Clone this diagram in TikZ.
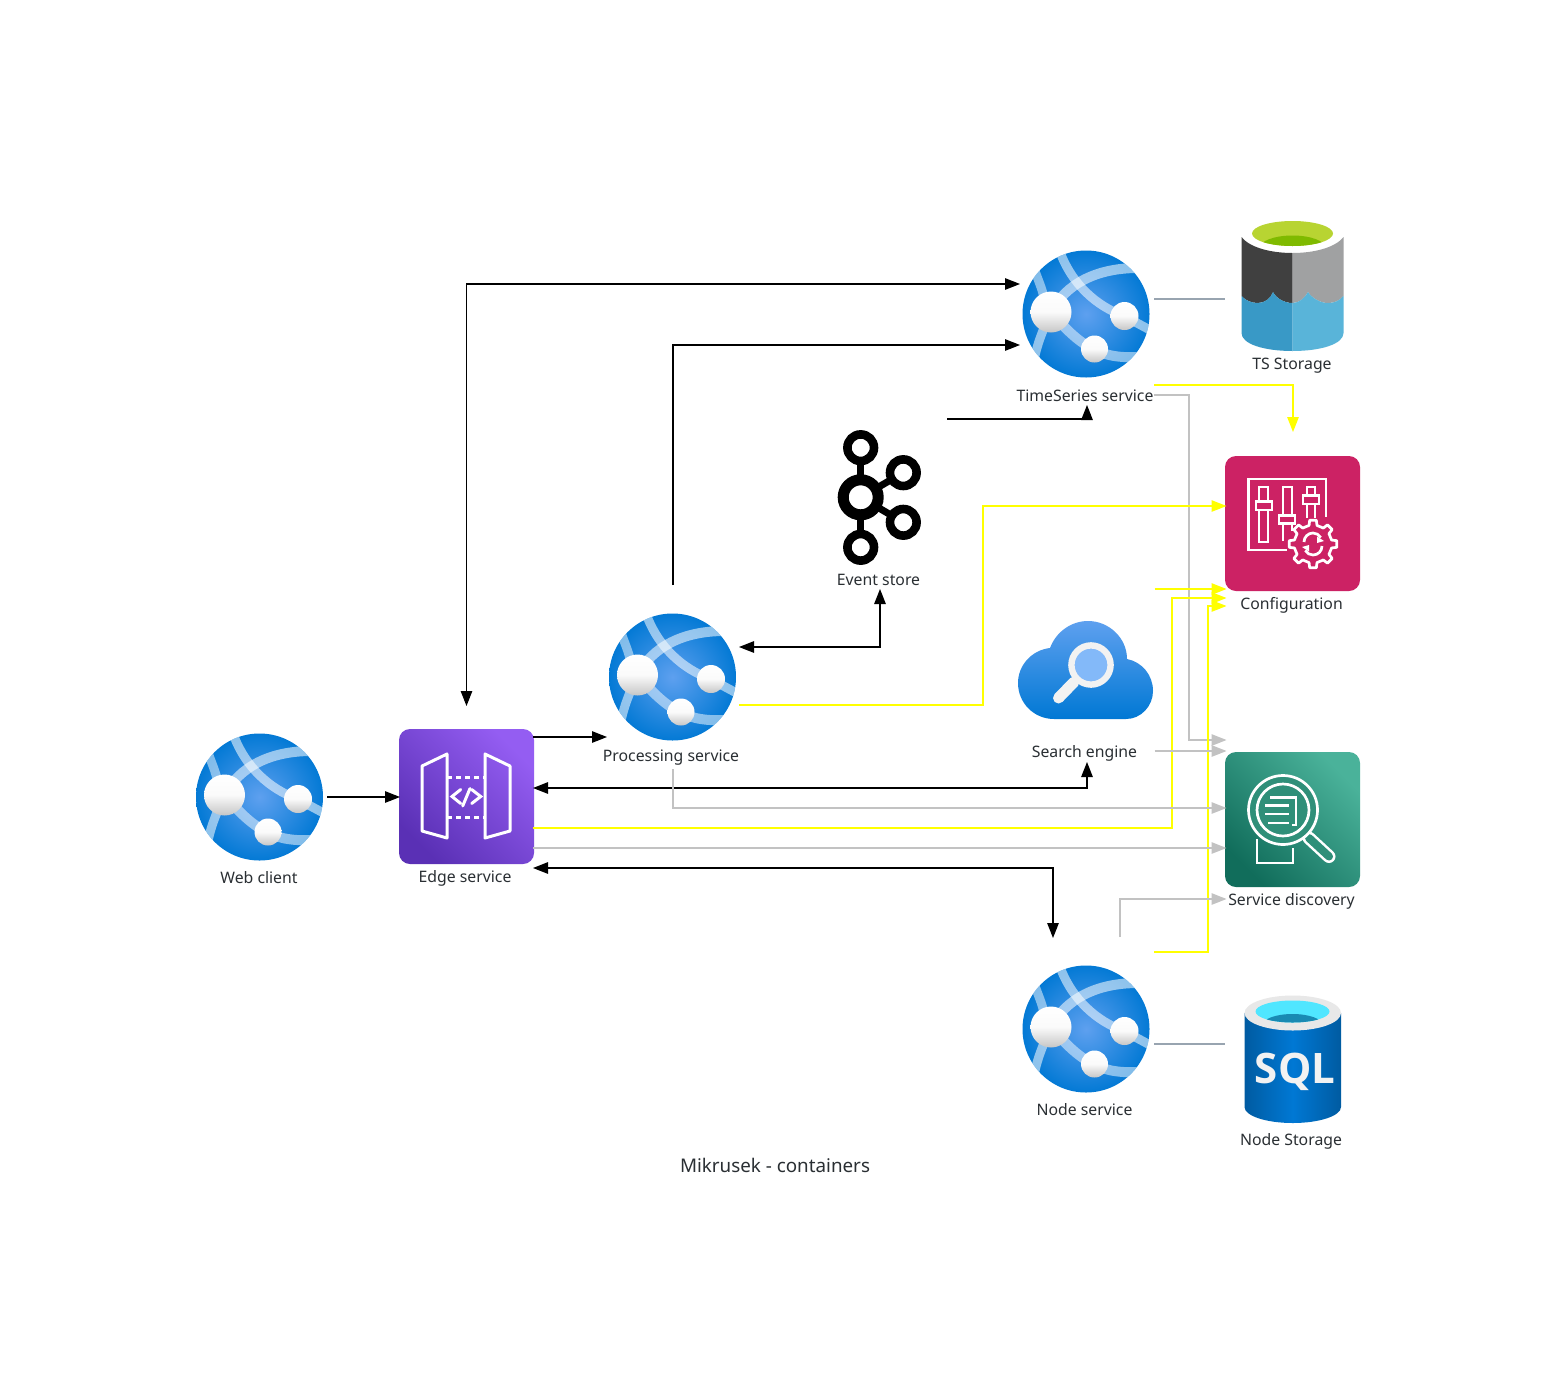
\documentclass[tikz,border=0pt]{standalone}
\usepackage{fontspec}
\setmainfont{Noto Sans}
\newfontfamily\sqlfont{Open Sans}
\usetikzlibrary{arrows.meta,calc}
\definecolor{ink}{HTML}{2A2F33}
\definecolor{cgray}{HTML}{C2C2C2}
\definecolor{cyel}{HTML}{FFFF00}
\definecolor{cslate}{HTML}{98A4B0}
\definecolor{webA}{HTML}{5EA0EF}
\definecolor{webB}{HTML}{0078D4}
\definecolor{nodeG}{HTML}{C6C6C6}
\definecolor{cfgpink}{HTML}{CC2264}
\definecolor{lakeDark}{HTML}{404040}
\definecolor{lakeGray}{HTML}{A0A1A2}
\definecolor{lakeBlueA}{HTML}{3999C6}
\definecolor{lakeBlueB}{HTML}{59B4D9}
\definecolor{lakeLime}{HTML}{B8D432}
\definecolor{lakeGreen}{HTML}{7FBA00}
\definecolor{glassRim}{HTML}{F2F2F2}
\definecolor{glassIn}{HTML}{83B9F9}
\definecolor{edgeA}{HTML}{5A30B5}
\definecolor{edgeB}{HTML}{945DF2}
\definecolor{discA}{HTML}{116D5B}
\definecolor{discB}{HTML}{4AB29A}
\definecolor{discM}{HTML}{2F8F79}
\definecolor{sqlA}{HTML}{005BA1}
\definecolor{sqlRim}{HTML}{E8E8E8}
\definecolor{sqlCy}{HTML}{50E6FF}
\definecolor{sqlDk}{HTML}{198AB3}
\tikzset{
  box/.style={inner sep=0pt,outer sep=0pt,minimum width=#1,minimum height=#1},
  lab/.style={font=\fontsize{15.8}{18}\selectfont,text=ink,inner sep=0pt,anchor=center},
  conn/.style={line width=1.2pt},
  toblack/.style={conn,black,-{Triangle[length=15pt,width=11.5pt]}},
  bothblack/.style={conn,black,{Triangle[length=15pt,width=11.5pt]}-{Triangle[length=15pt,width=11.5pt]}},
  toyel/.style={conn,cyel,-{Triangle[length=15pt,width=11.5pt]}},
  togray/.style={conn,cgray,-{Triangle[length=15pt,width=11.5pt]}},
  slate/.style={conn,cslate},
  whiteline/.style={draw=white,line width=3pt},
  rbox/.style={rounded corners=11pt},
  webapp/.pic={
    \begin{scope}
      \clip (0,0) circle[radius=63.5];
      \shade[inner color=webA,outer color=webB] (0,0) circle[radius=66];
      \draw[white,opacity=.55,line width=9pt] (-26,-62) .. controls (-14,-30) and (10,-8) .. (38,2) -- (64,16);
      \draw[white,opacity=.55,line width=10pt] (-35,-2) .. controls (-20,-30) and (10,-46) .. (52,-46);
      \draw[white,opacity=.5,line width=9pt] (-52,-46) .. controls (-48,-34) and (-44,-26) .. (-42,-16);
      \draw[white,opacity=.55,line width=9pt] (-42,14) .. controls (-46,24) and (-49,32) .. (-52,46);
      \draw[white,opacity=.5,line width=10pt] (-35,-2) .. controls (-20,16) and (-5,30) .. (8,35) .. controls (20,42) and (34,44) .. (56,43);
    \end{scope}
    \shade[top color=white,bottom color=nodeG,middle color=white!92!nodeG] (-35,-2) circle[radius=20.5];
    \shade[top color=white,bottom color=nodeG,middle color=white!92!nodeG] (38.5,2) circle[radius=14];
    \shade[top color=white,bottom color=nodeG,middle color=white!92!nodeG] (8.5,35) circle[radius=13.5];
  },
}
\begin{document}
\begin{tikzpicture}[x=1pt,y=-1pt]
\useasboundingbox (0,0) rectangle (1552,1376);
\fill[white] (0,0) rectangle (1552,1376);

% --- anchor boxes
\node[box=136] (web) at (259,797) {};
\node[box=133] (edge) at (466.5,797) {};
\node[box=132] (proc) at (673,677) {};
\node[box=134] (ts) at (1087,314) {};
\node[box=134] (kafka) at (880,498) {};
\node[box=135] (srch) at (1087,670) {};
\node[box=133] (cfg) at (1293,523.5) {};
\node[box=133] (disc) at (1293,819.5) {};
\node[box=134] (nodesvc) at (1087,1029) {};
\node[box=134] (tsdb) at (1292,285) {};
\node[box=134] (sqldb) at (1292,1060) {};

% --- labels
\node[lab] (lweb) at (259,878) {Web client};
\node[lab] (ledge) at (465,878) {Edge service};
\node[lab] (lproc) at (671,758) {Processing service};
\node[lab] (lkafka) at (878.5,580) {Event store};
\node[lab] (lts) at (1085,396) {TimeSeries service};
\node[lab] (ltsdb) at (1292,365.5) {TS Storage};
\node[lab] (lcfg) at (1291.5,605.5) {Configuration};
\node[lab] (lsrch) at (1084.5,753.5) {Search engine};
\node[lab] (ldisc) at (1291.5,901.5) {Service discovery};
\node[lab] (lnode) at (1084.5,1110) {Node service};
\node[lab] (lsql) at (1291,1141.5) {Node Storage};
\node[lab,font=\fontsize{18.8}{22}\selectfont] (title) at (775,1165.5) {Mikrusek - containers};

% --- web apps
\pic at (259.5,797) {webapp};
\pic at (672.5,677) {webapp};
\pic at (1086,314) {webapp};
\pic at (1086,1029) {webapp};

% --- TS Storage
\fill[white] (1241,237) arc[x radius=51.5,y radius=16,start angle=180,end angle=0] -- (1343.5,260) -- (1241,260) -- cycle;
\fill[white] (1292.25,237) ellipse[x radius=51.25,y radius=16];
\fill[lakeDark] (1241.5,237) -- (1241.5,296) .. controls (1246,301) and (1252,303) .. (1258,303) .. controls (1265,303) and (1271,298) .. (1273,292) .. controls (1276,298) and (1284,303) .. (1292.5,303) -- (1292.5,253) .. controls (1272,253) and (1250,248) .. (1241.5,237) -- cycle;
\fill[lakeGray] (1292.5,253) -- (1292.5,303) .. controls (1299,303) and (1305,298) .. (1308,292) .. controls (1312,298) and (1320,303) .. (1328,303) .. controls (1334,303) and (1339,301) .. (1343.5,296) -- (1343.5,237) .. controls (1335,248) and (1313,253) .. (1292.5,253) -- cycle;
\fill[lakeBlueA] (1241.5,296) .. controls (1246,301) and (1252,303) .. (1258,303) .. controls (1265,303) and (1271,298) .. (1273,292) .. controls (1276,298) and (1284,303) .. (1292.5,303) -- (1292.5,351) .. controls (1264,351) and (1241.5,344) .. (1241.5,333) -- cycle;
\fill[lakeBlueB] (1292.5,303) .. controls (1299,303) and (1305,298) .. (1308,292) .. controls (1312,298) and (1320,303) .. (1328,303) .. controls (1334,303) and (1339,301) .. (1343.5,296) -- (1343.5,333) .. controls (1343.5,344) and (1321,351) .. (1292.5,351) -- cycle;
\fill[lakeLime] (1292.5,233.5) ellipse[x radius=40.5,y radius=12.5];
\begin{scope}
  \clip (1292.5,233.5) ellipse[x radius=40.5,y radius=12.5];
  \fill[lakeGreen] (1292.5,248) ellipse[x radius=33,y radius=12.5];
\end{scope}

% --- Event store
\begin{scope}[line width=7pt,black]
  \draw (860.7,447.7) -- (860.7,547.3);
  \draw (860.7,497.3) -- (903.3,472.7);
  \draw (860.7,497.3) -- (903.3,522.3);
  \draw[line width=8.6pt,fill=white] (860.7,447.7) circle[radius=13.3];
  \draw[line width=8.6pt,fill=white] (860.7,547.3) circle[radius=13.3];
  \draw[line width=8.6pt,fill=white] (903.3,472.7) circle[radius=13.3];
  \draw[line width=8.6pt,fill=white] (903.3,522.3) circle[radius=13.3];
  \draw[line width=11pt,fill=white] (860.7,497.3) circle[radius=17.5];
\end{scope}

% --- Search engine
\shade[top color=webA,bottom color=webB]
  (1054,719) .. controls (1034,719) and (1018,703) .. (1018,683)
  .. controls (1018,665) and (1032,650) .. (1050,648)
  .. controls (1056,632) and (1071,621) .. (1088,621)
  .. controls (1109,621) and (1127,638) .. (1127,659)
  .. controls (1142,662) and (1153,675) .. (1153,691)
  .. controls (1153,706) and (1141,719) .. (1126,719) -- cycle;
\draw[glassRim,line width=11pt,line cap=round] (1074,682) -- (1058.5,698);
\draw[glassRim,line width=6.4pt,fill=glassIn] (1091,665) circle[radius=19.6];

% --- Edge service
\shade[rbox,left color=edgeA,right color=edgeB,shading angle=135] (399,729) rectangle (534,864);
\draw[whiteline,line join=round] (447,754) -- (447,838) -- (422,831) -- (422,766) -- cycle;
\draw[whiteline,line join=round] (485,754) -- (510,766) -- (510,831) -- (485,838) -- cycle;
\draw[whiteline,dash pattern=on 5pt off 4pt] (447,777) -- (485,777);
\draw[whiteline,dash pattern=on 5pt off 4pt] (447,817) -- (485,817);
\draw[whiteline,line cap=round] (460.7,789.5) -- (452,796.5) -- (460.7,803.5);
\draw[whiteline,line cap=round] (471.7,789.5) -- (480.7,796.5) -- (471.7,803.5);
\draw[whiteline,line cap=round] (470,788.5) -- (462.7,806);

% --- Configuration
\fill[rbox,cfgpink] (1225,456) rectangle (1360,591);
\begin{scope}[draw=white,line width=2.7pt]
  \draw (1326,517) -- (1326,479) -- (1248.5,479) -- (1248.5,550) -- (1287,550);
  \draw (1259,510) -- (1259,542) -- (1268,542) -- (1268,510);
  \draw (1259,501) -- (1259,487) -- (1268,487) -- (1268,501);
  \draw (1256,501.5) rectangle (1272,510);
  \draw (1283,541) -- (1283,523);
  \draw (1292,531) -- (1292,523);
  \draw (1283,515) -- (1283,487) -- (1292,487) -- (1292,515);
  \draw (1279,515.5) rectangle (1295,523.5);
  \draw (1307,495) -- (1307,487) -- (1315,487) -- (1315,495);
  \draw (1303,495.5) rectangle (1319,504);
  \draw (1307,504) -- (1307,518);
  \draw (1315,504) -- (1315,518);
  \begin{scope}[shift={(1313,544)}]
    \draw[fill=cfgpink,line join=round] (-12:19) \foreach \a in {0,45,...,315} { -- (\a-12:19) -- (\a-8:24) -- (\a+8:24) -- (\a+12:19)} -- cycle;
    \draw (-9,-2) arc[radius=9,start angle=180,end angle=330];
    \draw (9,2) arc[radius=9,start angle=0,end angle=150];
    \fill[white] (4,-7.5) -- (11,-3) -- (4,-1) -- cycle;
    \fill[white] (-4,7.5) -- (-11,3) -- (-4,1) -- cycle;
  \end{scope}
\end{scope}

% --- Service discovery
\shade[rbox,left color=discA,right color=discB,shading angle=135] (1225,752) rectangle (1360,887);
\begin{scope}[draw=white,line width=2.7pt]
  \draw (1257,839) -- (1257,863) -- (1293,863) -- (1293,848);
  \draw[line width=13pt,white,line cap=round] (1309,838) -- (1329,856.5);
  \draw[line width=8pt,discM,line cap=round] (1309,838) -- (1329,856.5);
  \draw[fill=discM] (1283,810) circle[radius=34.5];
  \draw (1283,810) circle[radius=26];
  \draw (1270,797.5) -- (1296,797.5) -- (1296,825) -- (1292,825);
  \draw (1265,805.5) -- (1289,805.5);
  \draw (1265,814) -- (1289,814);
  \draw (1268,823) -- (1289,823);
\end{scope}

% --- SQL
\shade[left color=sqlA,right color=sqlA,middle color=webB]
  (1244.5,1013) -- (1341,1013) -- (1341,1107) arc[x radius=48.25,y radius=16,start angle=0,end angle=180] -- cycle;
\fill[sqlRim] (1292.75,1013) ellipse[x radius=48.25,y radius=17.5];
\fill[sqlCy] (1292.5,1011.5) ellipse[x radius=37,y radius=11];
\begin{scope}
  \clip (1292.5,1011.5) ellipse[x radius=37,y radius=11];
  \fill[sqlDk] (1292.5,1025) ellipse[x radius=30,y radius=11];
\end{scope}
\node[inner sep=0pt,text=glassRim,font=\fontsize{42}{44}\selectfont\sqlfont\bfseries] (sqltxt) at (1295,1071.5) {SQL};

% --- connectors
\draw[toblack] (web.east) -- (edge.west);
\draw[bothblack] (edge.north |- 0,706) -- (edge.north |- 0,284) -- (ts.west |- 0,284);
\draw[toblack] (proc.north |- 0,585) -- (proc.north |- 0,345) -- (ts.west |- 0,345);
\draw[toblack] (kafka.east |- 0,419) -- (ts.south |- 0,419) -- (ts.south |- 0,405);
\draw[toyel] (ts.east |- 0,385) -- (cfg.north |- 0,385) -- (cfg.north |- 0,432);
\draw[togray] (ts.east |- 0,395) -- (1189,395) -- (1189,740) -- (disc.west |- 0,740);
\draw[toyel] (proc.east |- 0,705) -- (983,705) -- (983,506) -- (cfg.west |- 0,506);
\draw[toyel] (srch.east |- 0,589) -- (cfg.west |- 0,589);
\draw[toyel] (edge.east |- 0,828) -- (1172,828) -- (1172,598) -- (cfg.west |- 0,598);
\draw[toyel] (nodesvc.east |- 0,952) -- (1208,952) -- (1208,606) -- (cfg.west |- 0,606);
\draw[togray] (srch.east |- 0,751) -- (disc.west |- 0,751);
\draw[bothblack] (edge.east |- 0,788) -- (srch.south |- 0,788) -- (srch.south |- 0,762);
\draw[togray] (proc.north |- 0,769) -- (proc.north |- 0,808) -- (disc.west |- 0,808);
\draw[togray] (edge.east |- 0,848) -- (disc.west |- 0,848);
\draw[bothblack] (edge.east |- 0,868) -- (1053,868) -- (1053,938);
\draw[togray] (1120,937) -- (1120,899) -- (disc.west |- 0,899);
\draw[toblack] (edge.east |- 0,737) -- (proc.west |- 0,737);
\draw[bothblack] (proc.east |- 0,647) -- (kafka.south |- 0,647) -- (kafka.south |- 0,589);
\draw[slate] (ts.east |- 0,299) -- (1225,299);
\draw[slate] (nodesvc.east |- 0,1044) -- (1225,1044);
\end{tikzpicture}
\end{document}
